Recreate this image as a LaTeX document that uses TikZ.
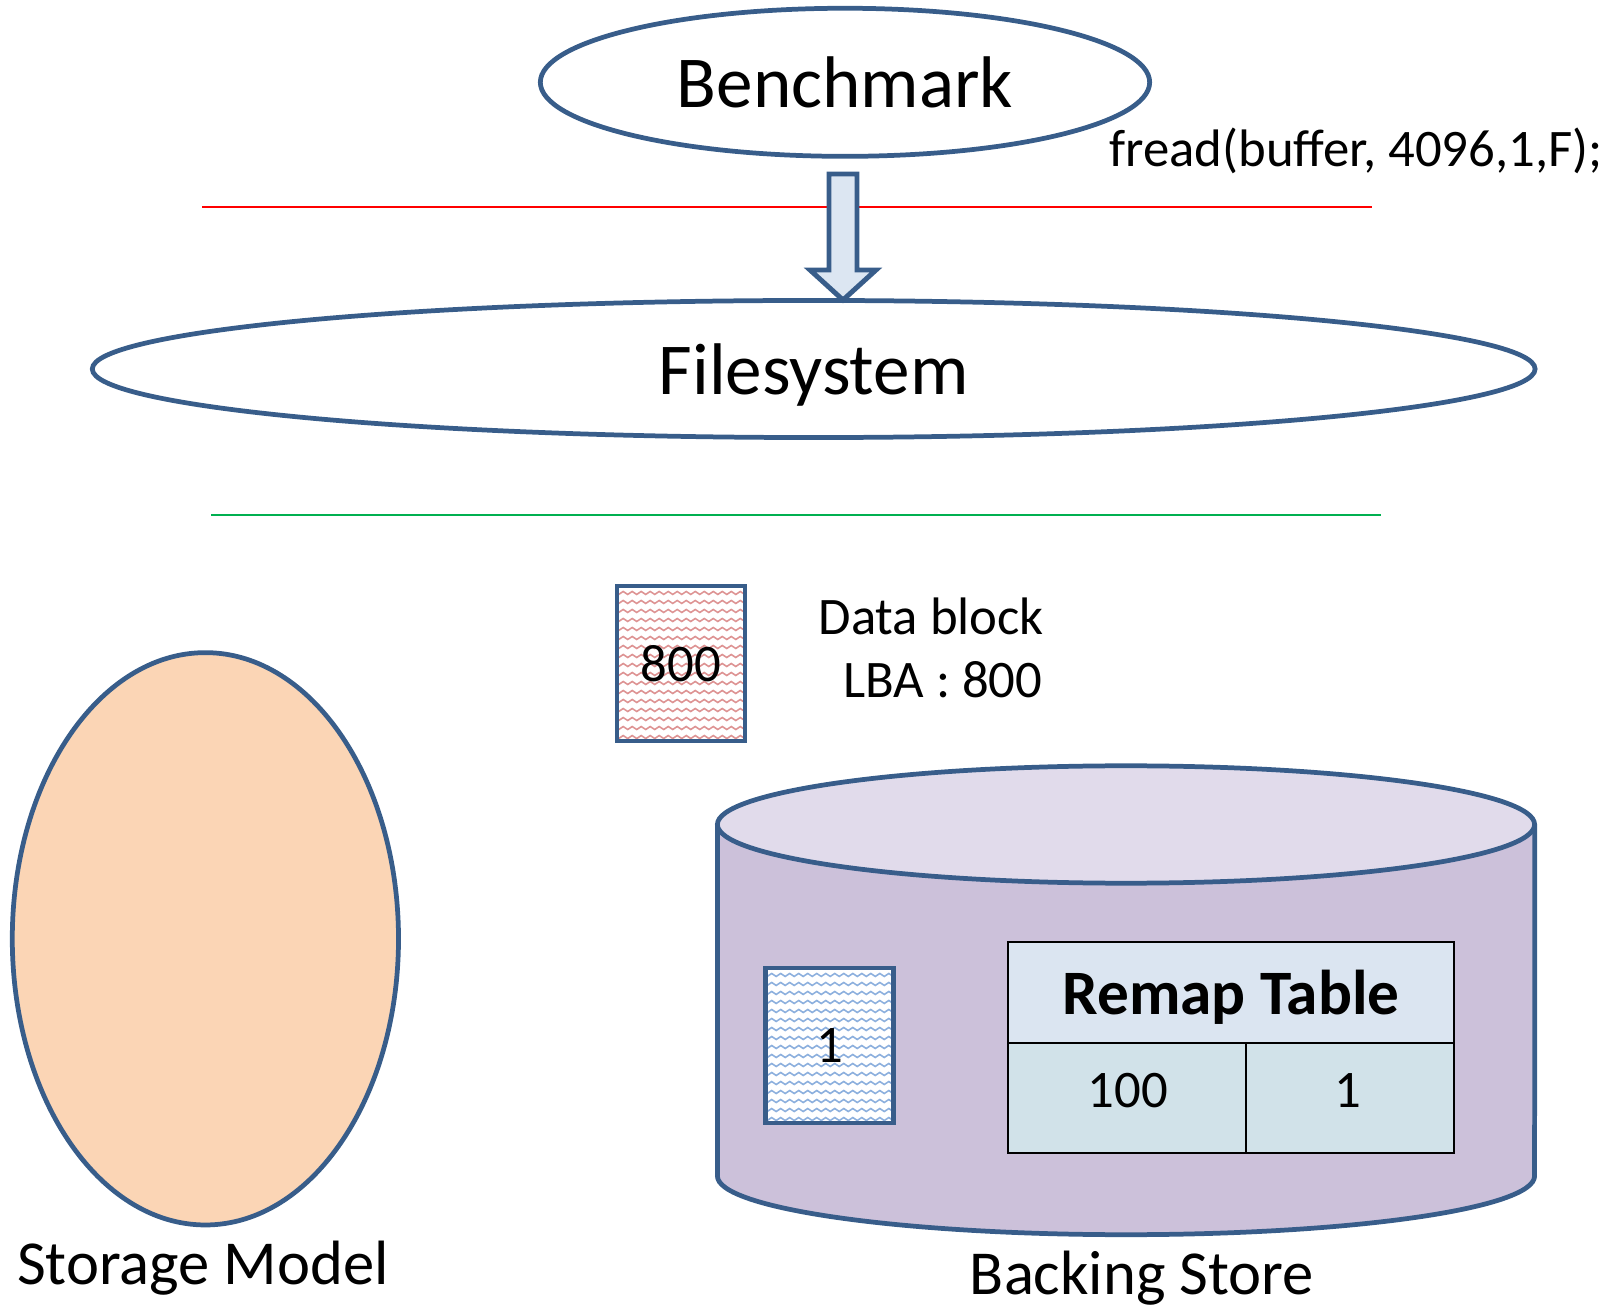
\documentclass[tikz,border=0pt]{standalone}
\usepackage{fontspec}
\setmainfont{Carlito}
\usetikzlibrary{shapes.geometric,decorations.pathmorphing}

\definecolor{edgeblue}{HTML}{385D8A}
\definecolor{arrowfill}{HTML}{DCE6F2}
\definecolor{peach}{HTML}{FBD5B5}
\definecolor{lavbody}{HTML}{CCC1DA}
\definecolor{lavtop}{HTML}{E1DBEB}
\definecolor{hdrfill}{HTML}{DBE5F1}
\definecolor{cellfill}{HTML}{D1E2E9}
\definecolor{wavered}{HTML}{DE9494}
\definecolor{waveblue}{HTML}{8DB0DE}
\definecolor{linegreen}{HTML}{00B050}

\begin{document}
\begin{tikzpicture}[x=0.01cm, y=0.01cm,
  outline/.style={draw=edgeblue, line width=1.35pt},
  layer/.style={ellipse, outline, inner sep=0pt, text depth=0pt,
    font=\fontsize{20.8}{25}\selectfont},
  smalltext/.style={font=\fontsize{15}{18}\selectfont, inner sep=0pt},
  captiontext/.style={font=\fontsize{17.8}{21}\selectfont, inner sep=0pt},
  blockarrow/.style={outline, fill=arrowfill, line width=1.4pt},
  wavebox/.style={rectangle, outline, line width=1.2pt, fill=white,
    minimum width=1.28cm, minimum height=1.55cm, inner sep=0pt,
    font=\fontsize{15}{18}\selectfont,
    path picture={
      \foreach \k in {0,...,18}{
        \draw[#1, line width=0.45pt, decorate,
              decoration={zigzag, segment length=0.09cm, amplitude=0.015cm}]
          ([yshift=-\k*0.09cm+0.02cm, xshift=-0.05cm]path picture bounding box.north west)
          -- ++(1.5cm,0);
      }}},
  tablecell/.style={rectangle, draw=black, line width=0.7pt, inner sep=0pt}
]
\useasboundingbox (0,0) rectangle (1614,1308);

% --- software layers ---
\node[layer, minimum width=6.09cm, minimum height=1.48cm] (bench) at (845,1225.7) {Benchmark};
\node[layer, minimum width=14.42cm, minimum height=1.37cm] (fs) at (813.7,939) {Filesystem};
\node[smalltext, anchor=base] (fread) at (1356,1141) {fread(buffer, 4096,1,F);};

% boundary lines
\coordinate (redL) at (202,1101);
\coordinate (redR) at (1372,1101);
\coordinate (greenL) at (211,793.4);
\coordinate (greenR) at (1381,793.4);
\draw[red, line width=0.55pt] (redL) -- (redR);
\draw[linegreen, line width=0.55pt] (greenL) -- (greenR);

% block arrow from the benchmark down to the filesystem
\coordinate (tip) at (843,1008);
\draw[blockarrow] (tip) -- ++(-33,30) -- ++(19,0) -- ++(0,96) -- ++(28,0)
  -- ++(0,-96) -- ++(19,0) -- cycle;

% --- data block ---
\node[wavebox=wavered] (blk800) at (681,644.5) {800};
\node[smalltext, anchor=base west] (dbl) at (818,673) {Data block};
\node[smalltext, anchor=base east] (lba) at (1043,610) {LBA : 800};

% --- storage model ---
\node[ellipse, outline, fill=peach, minimum width=3.86cm, minimum height=5.72cm,
      inner sep=0pt] (model) at (205.4,369.2) {};
\node[captiontext, anchor=base] (modellbl) at (203,24) {Storage Model};

% --- backing store cylinder ---
\fill[lavbody] (717.4,483.5) -- (717.4,132)
  arc[start angle=180, end angle=360, x radius=408.6, y radius=58.7]
  -- (1534.7,483.5) -- cycle;
\draw[outline] (717.4,483.5) -- (717.4,132)
  arc[start angle=180, end angle=360, x radius=408.6, y radius=58.7]
  -- (1534.7,483.5);
\draw[outline, fill=lavtop] (1126,483.5) ellipse[x radius=408.6, y radius=58.7];
\node[captiontext, anchor=base] (storelbl) at (1142,14) {Backing Store};

\node[wavebox=waveblue] (blk1) at (829.5,262.5) {1};

% remap table
\node[tablecell, fill=hdrfill, minimum width=4.46cm, minimum height=1.01cm,
      text depth=0pt, font=\fontsize{18}{21}\selectfont\bfseries]
      (remap) at (1231,315.5) {Remap Table};
\node[tablecell, fill=cellfill, minimum width=2.38cm, minimum height=1.10cm]
      (cellA) at (1127,210) {};
\node[tablecell, fill=cellfill, minimum width=2.08cm, minimum height=1.10cm]
      (cellB) at (1350,210) {};
\node[smalltext, anchor=base] (v100) at (1128,201) {100};
\node[smalltext, anchor=base] (v1) at (1348,201) {1};

\end{tikzpicture}
\end{document}
